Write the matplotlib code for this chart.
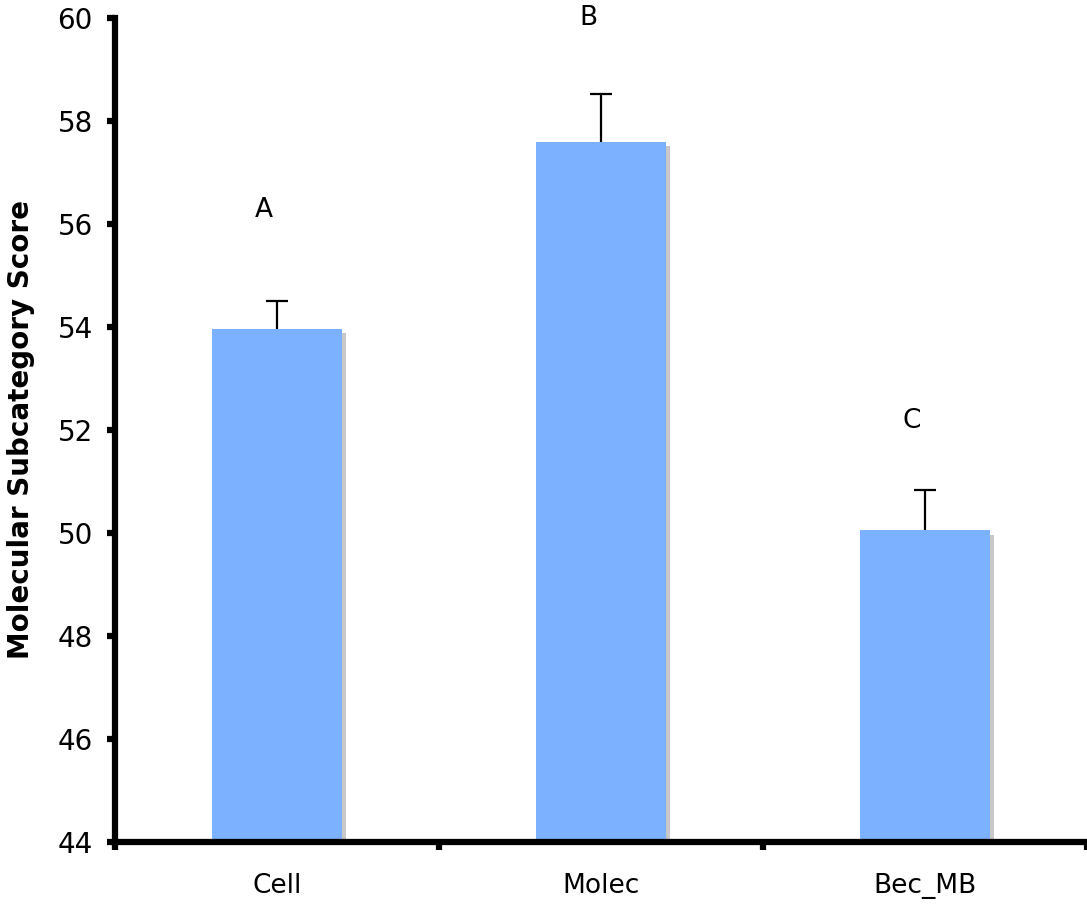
import matplotlib
matplotlib.use("Agg")
import matplotlib.pyplot as plt
import matplotlib.patheffects as pe
import numpy as np

categories = ["Cell", "Molec", "Bec_MB"]
scores = [53.96, 57.6, 50.05]
errors = [0.54, 0.93, 0.79]
letters = ["A", "B", "C"]
letter_y = [56.27, 60.0, 52.17]
yticks = [44, 46, 48, 50, 52, 54, 56, 58, 60]

plt.rcParams['font.family'] = ['DejaVu Sans']
fig = plt.figure(figsize=(10.87, 9.07), dpi=100)
ax = fig.add_axes([0.1058, 0.0717, 0.8942, 0.9085])

x = np.arange(len(categories)) + 0.5
bars = ax.bar(x, scores, width=0.40, color='#7BB1FF', zorder=2)
for b in bars:
    b.set_path_effects([pe.SimplePatchShadow(offset=(3, -3), shadow_rgbFace='#c8c8c8', alpha=1.0), pe.Normal()])
eb = ax.errorbar(x, scores, yerr=[np.zeros(len(errors)), errors], fmt='none', ecolor='black',
                 elinewidth=1.6, capsize=8, capthick=1.6, zorder=3)
eb[1][0].set_visible(False)
for xi, t, yi in zip(x, letters, letter_y):
    ax.text(xi - 0.04, yi, t, ha='center', va='center', fontsize=19)

ax.set_xlim(0, 3)
ax.set_ylim(44, 60)
ax.set_yticks(yticks)
ax.set_yticklabels([str(v) for v in yticks], fontsize=20)
ax.set_xticks([0, 1, 2, 3])
ax.set_xticks(x, minor=True)
ax.set_xticklabels([])
ax.set_xticklabels(categories, minor=True, fontsize=19)
ax.tick_params(axis='x', which='minor', length=0, pad=22)
ax.tick_params(axis='x', which='major', direction='out', length=6, width=4.5)
ax.tick_params(axis='y', direction='out', length=6, width=4.5, pad=10)
ax.set_ylabel("Molecular Subcategory Score", fontsize=20, fontweight='bold', labelpad=16)
for s in ['top', 'right']:
    ax.spines[s].set_visible(False)
for s in ['left', 'bottom']:
    ax.spines[s].set_linewidth(4.5)
fig.savefig("out.png", dpi=100)
